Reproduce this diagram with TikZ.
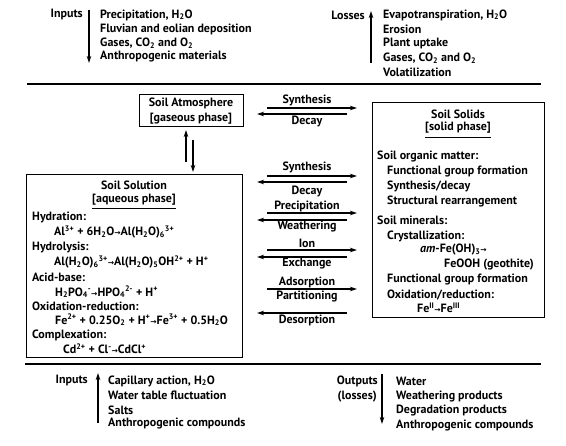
\documentclass[tikz,border=0pt]{standalone}
\usepackage{fontspec}
\setmainfont{PT Sans}
\newfontfamily\arrfont{DejaVu Sans}
\usetikzlibrary{arrows.meta}
\newcommand{\lo}[1]{\textsubscript{#1}}
\newcommand{\hi}[1]{\textsuperscript{#1}}
\newcommand{\rarr}{{\arrfont\fontsize{7.5}{7.5}\selectfont →}}
\begin{document}
\begin{tikzpicture}[x=1pt,y=-1pt,
  every node/.style={font=\bfseries\fontsize{12}{14}\selectfont, inner sep=0pt},
  txt/.style={anchor=west},
  rtxt/.style={anchor=east},
  lbl/.style={anchor=center},
  box/.style={draw, line width=1pt, fill=none},
  arr/.style={line width=1.1pt, -{Stealth[length=7pt,width=4.5pt]}},
  rulel/.style={line width=2.8pt},
  uline/.style={line width=0.9pt}]
\useasboundingbox (0,0) rectangle (566,446);

% ---------- top: inputs ----------
\node[rtxt] (inL) at (83,15) {Inputs};
\coordinate (inA1) at (89,10); \coordinate (inA2) at (89,63);
\draw[arr] (inA1) -- (inA2);
\node[txt] (in1) at (100,15) {Precipitation, H\lo{2}O};
\node[txt] (in2) at (100,29) {Fluvian and eolian deposition};
\node[txt] (in3) at (100,43) {Gases, CO\lo{2} and O\lo{2}};
\node[txt] (in4) at (100,57) {Anthropogenic materials};

% ---------- top: losses ----------
\node[rtxt] (loL) at (365,15) {Losses};
\coordinate (loA1) at (371,63); \coordinate (loA2) at (371,11);
\draw[arr] (loA1) -- (loA2);
\node[txt] (lo1) at (383,15) {Evapotranspiration, H\lo{2}O};
\node[txt] (lo2) at (383,29) {Erosion};
\node[txt] (lo3) at (383,43) {Plant uptake};
\node[txt] (lo4) at (383,58) {Gases, CO\lo{2} and O\lo{2}};
\node[txt] (lo5) at (383,72) {Volatilization};

% ---------- rules ----------
\coordinate (r1a) at (27,84); \coordinate (r1b) at (541,84);
\draw[rulel] (r1a) -- (r1b);
\coordinate (r2a) at (25,364); \coordinate (r2b) at (541,364);
\draw[rulel] (r2a) -- (r2b);

% ---------- soil atmosphere ----------
\node[box, minimum width=104pt, minimum height=32pt, align=center, font=\bfseries\fontsize{12}{15}\selectfont]
  (atm) at (191,111) {Soil Atmosphere\\{[gaseous phase]}};

% vertical double arrows
\coordinate (v1a) at (186,162); \coordinate (v1b) at (186,130);
\coordinate (v2a) at (193,140); \coordinate (v2b) at (193,172);
\draw[arr] (v1a) -- (v1b);
\draw[arr] (v2a) -- (v2b);

% ---------- soil solution ----------
\node[box, minimum width=216pt, minimum height=183pt] (sol) at (134,266.5) {};
\node[lbl] (solT) at (134,185) {Soil Solution};
\node[lbl] (solP) at (134,199.5) {[aqueous phase]};
\draw[uline] (solP.west |- 0,208.5) -- (solP.east |- 0,208.5);
\node[txt] (s1) at (32,217) {Hydration:};
\node[txt] (s2) at (54,232) {Al\hi{3+} + 6H\lo{2}O\rarr Al(H\lo{2}O)\lo{6}\hi{3+}};
\node[txt] (s3) at (32,247) {Hydrolysis:};
\node[txt] (s4) at (54,262) {Al(H\lo{2}O)\lo{6}\hi{3+}\rarr Al(H\lo{2}O)\lo{5}OH\hi{2+} + H\hi{+}};
\node[txt] (s5) at (32,277) {Acid-base:};
\node[txt] (s6) at (55,292) {H\lo{2}PO\lo{4}\hi{-}\rarr HPO\lo{4}\hi{2-} + H\hi{+}};
\node[txt] (s7) at (32,306) {Oxidation-reduction:};
\node[txt] (s8) at (55,320) {Fe\hi{2+} + 0.25O\lo{2} + H\hi{+}\rarr Fe\hi{3+} + 0.5H\lo{2}O};
\node[txt] (s9) at (32,335) {Complexation:};
\node[txt] (s10) at (63,349) {Cd\hi{2+} + Cl\hi{-}\rarr CdCl\hi{+}};

% ---------- soil solids ----------
\node[box, minimum width=172pt, minimum height=215pt] (sld) at (458,210.5) {};
\node[lbl] (sldT) at (458,114) {Soil Solids};
\node[lbl] (sldP) at (458,128) {[solid phase]};
\draw[uline] (sldP.west |- 0,137.5) -- (sldP.east |- 0,137.5);
\node[txt] (o1) at (377,156) {Soil organic matter:};
\node[txt] (o2) at (387,172) {Functional group formation};
\node[txt] (o3) at (387,186) {Synthesis/decay};
\node[txt] (o4) at (387,201) {Structural rearrangement};
\node[txt] (m1) at (377,220) {Soil minerals:};
\node[txt] (m2) at (387,236) {Crystallization:};
\node[txt] (m3) at (420,250) {\textit{am}-Fe(OH)\lo{3}\rarr};
\node[txt] (m4) at (444,265) {FeOOH (geothite)};
\node[txt] (m5) at (387,280) {Functional group formation};
\node[txt] (m6) at (387,295) {Oxidation/reduction:};
\node[txt] (m7) at (417,308) {Fe\hi{II}\rarr Fe\hi{III}};

% ---------- exchange arrows ----------
% group 0 : atmosphere <-> solids
\node[lbl] (g0a) at (307,100) {Synthesis};
\coordinate (g0r1) at (267,108); \coordinate (g0r2) at (357,108);
\coordinate (g0l1) at (347,114); \coordinate (g0l2) at (257,114);
\draw[arr] (g0r1) -- (g0r2);
\draw[arr] (g0l1) -- (g0l2);
\node[lbl] (g0b) at (307,121) {Decay};
% group 1
\node[lbl] (g1a) at (307,167) {Synthesis};
\coordinate (g1r1) at (267,176); \coordinate (g1r2) at (357,176);
\coordinate (g1l1) at (347,182); \coordinate (g1l2) at (257,182);
\draw[arr] (g1r1) -- (g1r2);
\draw[arr] (g1l1) -- (g1l2);
\node[lbl] (g1b) at (307,191) {Decay};
% group 2
\node[lbl] (g2a) at (307,206) {Precipitation};
\coordinate (g2r1) at (267,213); \coordinate (g2r2) at (357,213);
\coordinate (g2l1) at (347,220); \coordinate (g2l2) at (257,220);
\draw[arr] (g2r1) -- (g2r2);
\draw[arr] (g2l1) -- (g2l2);
\node[lbl] (g2b) at (307,227) {Weathering};
% group 3
\node[lbl] (g3a) at (307,243) {Ion};
\coordinate (g3r1) at (267,250); \coordinate (g3r2) at (357,250);
\coordinate (g3l1) at (347,257); \coordinate (g3l2) at (257,257);
\draw[arr] (g3r1) -- (g3r2);
\draw[arr] (g3l1) -- (g3l2);
\node[lbl] (g3b) at (307,264) {Exchange};
% group 4
\node[lbl] (g4a) at (307,282) {Adsorption};
\coordinate (g4r1) at (267,289); \coordinate (g4r2) at (357,289);
\draw[arr] (g4r1) -- (g4r2);
\node[lbl] (g4b) at (307,297) {Partitioning};
\coordinate (g4l1) at (347,313); \coordinate (g4l2) at (257,313);
\draw[arr] (g4l1) -- (g4l2);
\node[lbl] (g4c) at (307,320) {Desorption};

% ---------- bottom: inputs ----------
\node[rtxt] (biL) at (88,381) {Inputs};
\coordinate (biA1) at (98,423); \coordinate (biA2) at (98,373);
\draw[arr] (biA1) -- (biA2);
\node[txt] (bi1) at (108,381) {Capillary action, H\lo{2}O};
\node[txt] (bi2) at (108,395) {Water table fluctuation};
\node[txt] (bi3) at (108,410) {Salts};
\node[txt] (bi4) at (108,424) {Anthropogenic compounds};

% ---------- bottom: outputs ----------
\node[rtxt] (boL) at (378,381) {Outputs};
\node[rtxt] (boL2) at (377,397) {(losses)};
\coordinate (boA1) at (382,374); \coordinate (boA2) at (382,424);
\draw[arr] (boA1) -- (boA2);
\node[txt] (bo1) at (396,381) {Water};
\node[txt] (bo2) at (396,397) {Weathering products};
\node[txt] (bo3) at (396,411) {Degradation products};
\node[txt] (bo4) at (396,426) {Anthropogenic compounds};
\end{tikzpicture}
\end{document}
